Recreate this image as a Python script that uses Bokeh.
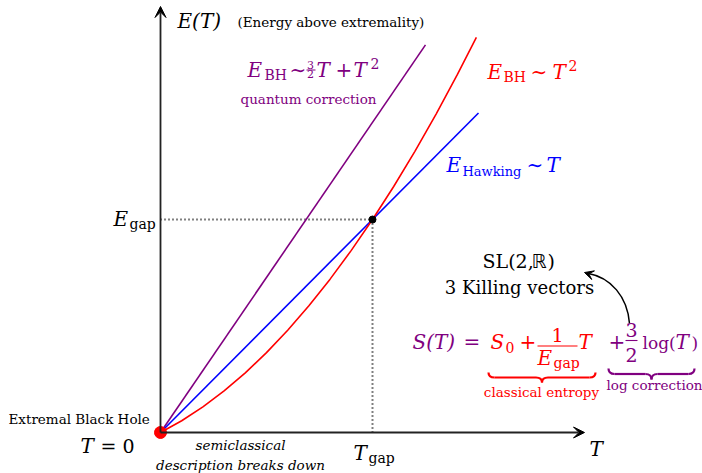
from bokeh.plotting import figure
from bokeh.models import Range1d, Label, Arrow, VeeHead
from bokeh.embed import file_html
from bokeh.resources import INLINE

# ---------------- data (T_gap = 1, E_gap = 1 units) ----------------
T_red = [0.0, 0.1, 0.2, 0.3, 0.4, 0.5, 0.6, 0.7, 0.8, 0.9, 1.0, 1.1, 1.2, 1.3, 1.4, 1.49]
E_red = [0.0, 0.055, 0.12, 0.195, 0.28, 0.375, 0.48, 0.595, 0.72, 0.855, 1.0, 1.155, 1.32, 1.495, 1.68, 1.855]
T_blue = [0.0, 1.5]
E_blue = [0.0, 1.5]
T_purple = [0.0, 1.25]
E_purple = [0.0, 1.82]
T_gap = 1.0
E_gap = 1.0
AXIS_MAX = 2.0

W, H = 702, 473
OX, OY, SX, SY = 160, 432, 212, 213   # pixel position of origin and px per unit

RED, BLUE, PURPLE, BLACK = "#ff0000", "#0000ff", "#800080", "#000000"
FONT = "DejaVu Serif"
BIG = 20     # math size
SUB = 14     # subscript size
SMALL = 13.5 # small remarks

p = figure(width=W, height=H, output_backend="svg", toolbar_location=None,
           x_range=Range1d(-OX / SX, (W - OX) / SX),
           y_range=Range1d(-(H - OY) / SY, OY / SY),
           x_axis_type=None, y_axis_type=None, min_border=0)
p.grid.visible = False
p.outline_line_color = None
p.background_fill_color = "white"
p.border_fill_color = "white"


def d(px, py):
    return (px - OX) / SX, (OY - py) / SY


def lab(text, x, y, size=BIG, color=BLACK, style="normal", align="left", font=FONT):
    # y is the wanted baseline (pixels from top)
    yy = y - 0.33 * size
    p.add_layout(Label(x=x, y=H - yy, x_units="screen", y_units="screen", text=text,
                       text_font=font, text_font_size=f"{size}px", text_font_style=style,
                       text_color=color, text_align=align, text_baseline="alphabetic"))


def hline_px(x0, x1, y, color, w=1.0):
    a = d(x0, y); b = d(x1, y)
    p.line([a[0], b[0]], [a[1], b[1]], line_color=color, line_width=w)


def brace(x0, x1, ytop, ytip, color, w=6):
    xc = (x0 + x1) / 2
    ym = (ytop + ytip) / 2
    segs = [((x0, ytop), (x0 + w, ym), (x0, ym)),
            ((xc - w, ym), (xc, ytip), (xc, ym)),
            ((x1, ytop), (x1 - w, ym), (x1, ym)),
            ((xc + w, ym), (xc, ytip), (xc, ym))]
    for s, e, c in segs:
        s_, e_, c_ = d(*s), d(*e), d(*c)
        p.quadratic(x0=[s_[0]], y0=[s_[1]], x1=[e_[0]], y1=[e_[1]], cx=[c_[0]], cy=[c_[1]],
                    line_color=color, line_width=2.2)
    hline_px(x0 + w, xc - w, ym, color, 2.2)
    hline_px(xc + w, x1 - w, ym, color, 2.2)


# ---------------- dotted guides ----------------
p.line([0, T_gap], [E_gap, E_gap], line_color=BLACK, line_width=2, line_dash="1 3")
p.line([T_gap, T_gap], [0, E_gap], line_color=BLACK, line_width=2, line_dash="1 3")

# ---------------- curves ----------------
p.line(T_purple, E_purple, line_color=PURPLE, line_width=1.6)
p.line(T_blue, E_blue, line_color=BLUE, line_width=1.6)
p.line(T_red, E_red, line_color=RED, line_width=1.6)

# ---------------- axes ----------------
for xe, ye in [(AXIS_MAX, 0), (0, AXIS_MAX)]:
    p.add_layout(Arrow(end=VeeHead(size=11, fill_color=BLACK, line_color=BLACK, line_width=1),
                       x_start=0, y_start=0, x_end=xe, y_end=ye,
                       line_color="#222222", line_width=1.8))

p.scatter([T_gap], [E_gap], size=7, color=BLACK)
p.scatter([0], [0], size=12, color=RED)

# ---------------- axis labels ----------------
lab("E(T)", 177, 27, BIG, style="italic")
lab("(Energy above extremality)", 237, 26, SMALL)
lab("E", 113, 225, BIG, style="italic")
lab("gap", 129, 228, SUB)
lab("T", 353, 459, BIG, style="italic")
lab("gap", 368, 462, SUB)
lab("T", 589, 455, BIG, style="italic")
lab("Extremal Black Hole", 8, 423, SMALL)
lab("T", 80, 452, BIG, style="italic")
lab("= 0", 100, 452, BIG - 1)
lab("semiclassical", 240, 449, SMALL, style="italic", align="center")
lab("description breaks down", 240, 469, SMALL, style="italic", align="center")

# purple formula
lab("E", 247, 76, BIG, PURPLE, "italic")
lab("BH", 264, 79, SUB, PURPLE)
lab("\u223c", 289, 76, BIG, PURPLE)
lab("3", 310, 68, 11, PURPLE, align="center")
hline_px(306, 315, 69.5, PURPLE, 1)
lab("2", 310, 77.5, 11, PURPLE, align="center")
lab("T", 316, 76, BIG, PURPLE, "italic")
lab("+", 335, 76, BIG, PURPLE)
lab("T", 353, 76, BIG, PURPLE, "italic")
lab("2", 370, 68, SUB, PURPLE)
lab("quantum correction", 240, 103, SMALL, PURPLE)

# red formula
lab("E", 487, 78, BIG, RED, "italic")
lab("BH", 503, 81, SUB, RED)
lab("\u223c", 530, 78, BIG, RED)
lab("T", 552, 78, BIG, RED, "italic")
lab("2", 568, 70, SUB, RED)

# blue formula
lab("E", 446, 171, BIG, BLUE, "italic")
lab("Hawking", 462, 175, SUB - 1, BLUE)
lab("\u223c", 526, 171, BIG, BLUE)
lab("T", 546, 171, BIG, BLUE, "italic")

# SL(2,R)
lab("SL(2,", 482, 267, BIG - 1)
lab("\u211d", 531, 267, BIG - 1, font="DejaVu Sans")
lab(")", 547, 267, BIG - 1)
lab("3 Killing vectors", 519, 293, BIG - 2, align="center")

# entropy formula
lab("S(T)", 412, 348, BIG, PURPLE, "italic")
lab("=", 463, 348, BIG, PURPLE)
lab("S", 490, 348, BIG, RED, "italic")
lab("0", 505, 352, SUB, RED)
lab("+", 519, 348, BIG, RED)
lab("1", 557, 341, BIG - 1, RED, align="center")
hline_px(537, 577, 345.5, RED, 1.1)
lab("E", 537, 364, BIG, RED, "italic")
lab("gap", 553, 367, SUB, RED)
lab("T", 578, 348, BIG, RED, "italic")
lab("+", 608, 348, BIG, PURPLE)
lab("3", 631, 336, BIG - 1, PURPLE, align="center")
hline_px(625, 637, 340, PURPLE, 1.1)
lab("2", 631, 361, BIG - 1, PURPLE, align="center")
lab("log(", 642, 348, 17, PURPLE)
lab("T", 675, 348, BIG, PURPLE, "italic")
lab(")", 691, 348, 17, PURPLE)

brace(488, 595, 372, 382, RED)
brace(608, 694, 368, 379, PURPLE)
lab("classical entropy", 541, 396, SMALL, RED, align="center")
lab("log correction", 654, 389, SMALL, PURPLE, align="center")

# curved arrow
s, c1, c2, e = d(629, 323), d(627, 296), d(610, 277), d(588, 273)
p.bezier(x0=[s[0]], y0=[s[1]], x1=[e[0]], y1=[e[1]], cx0=[c1[0]], cy0=[c1[1]],
         cx1=[c2[0]], cy1=[c2[1]], line_color=BLACK, line_width=1.5)
a0, a1 = d(592, 274.5), d(584, 272)
p.add_layout(Arrow(end=VeeHead(size=9, fill_color=BLACK, line_color=BLACK, line_width=1),
                   x_start=a0[0], y_start=a0[1], x_end=a1[0], y_end=a1[1],
                   line_alpha=0, line_width=0))

open("out.html", "w").write(file_html(p, INLINE))
